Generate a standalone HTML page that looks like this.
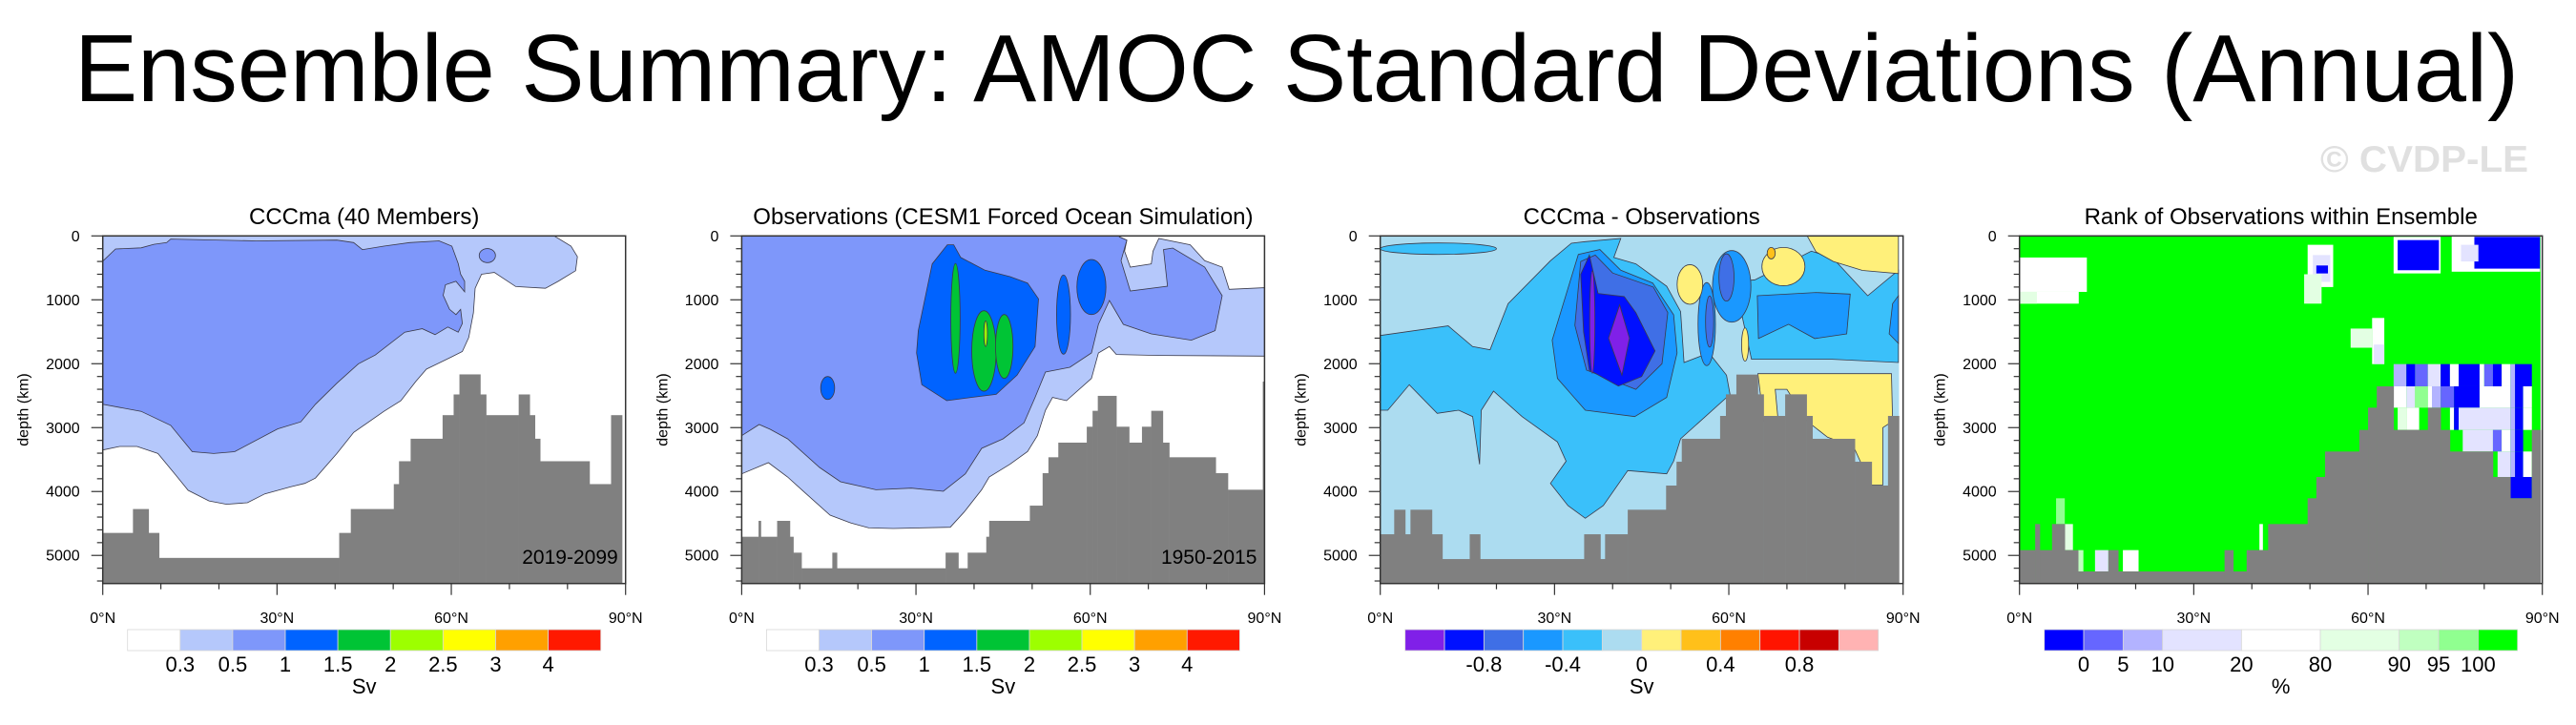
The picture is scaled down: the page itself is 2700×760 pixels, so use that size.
<!DOCTYPE html>
<html><head><meta charset="utf-8">
<style>
html,body{margin:0;padding:0;background:#fff;}
svg{display:block;font-family:"Liberation Sans",Arial,sans-serif;}
</style></head>
<body>
<svg id="fig" width="2700" height="760" viewBox="0 0 2700 760" xmlns="http://www.w3.org/2000/svg">
<text x="78" y="106" font-size="100" textLength="2562" lengthAdjust="spacingAndGlyphs">Ensemble Summary: AMOC Standard Deviations (Annual)</text>
<text x="2432" y="180" font-size="39" font-weight="bold" fill="#e0e0e0" textLength="218" lengthAdjust="spacingAndGlyphs">© CVDP-LE</text>
<g id="panels"></g>
</svg>
<script>
// ---------- data ----------
const panelTitles = ["CCCma (40 Members)","Observations (CESM1 Forced Ocean Simulation)","CCCma - Observations","Rank of Observations within Ensemble"];
const panelLefts = [107.7, 777.4, 1446.7, 2116.7];
const yearLabels = ["2019-2099","1950-2015","",""];
const depthTicks = [0,1000,2000,3000,4000,5000];
const latTicks = [0,30,60,90];
const latTickLabels = ["0°N","30°N","60°N","90°N"];

const sdColors = ["#ffffff","#b5c8fb","#7e97fa","#0063ff","#00c435","#9dff00","#ffff00","#ffa000","#ff1900"];
const sdLabels = ["0.3","0.5","1","1.5","2","2.5","3","4"];
const diffColors = ["#8020e8","#0010ff","#3f6fe6","#1a98ff","#3ac0fa","#acdcf0","#fff07a","#ffc01a","#ff8000","#ff1400","#c80000","#ffb3b3"];
const diffLabels = ["-0.8","-0.4","0","0.4","0.8"];
const rankColors = ["#0000ff","#6666ff","#b3b3ff","#e3e3ff","#ffffff","#e3ffe3","#c0ffc0","#90ff90","#00ff00"];
const rankLabels = ["0","5","10","20","80","90","95","100"];
const rankWidths = [1,1,1,2,2,2,1,1,1];

const bathyLat1 = [0,5.2,7.9,9.7,40.7,42.7,50.1,51.0,53.0,58.5,60.4,61.4,65.0,66.0,71.6,73.5,74.4,75.3,83.8,87.5,89.4];
const bathyDep1 = [4648,4274,4648,5039,4648,4274,3884,3526,3174,2805,2481,2167,2481,2805,2481,2805,3174,3526,3884,2805];
const bathyLat2 = [0,2.9,3.3,6.1,8.3,8.9,10.3,15.6,16.4,35.1,37.3,38.9,42.1,42.6,49.6,51.8,52.8,54.5,59.4,60.4,61.3,64.5,66.7,68.9,70.5,72.5,73.6,81.6,83.7,89.7,90];
const bathyDep2 = [4708,4459,4708,4459,4708,4957,5201,4957,5201,4957,5201,4957,4708,4459,4221,3713,3464,3235,2986,2737,2503,2986,3235,2986,2737,3235,3464,3713,3972,2280];
const bathyLat3 = [0,2.4,4.3,5.2,8.9,10.7,15.4,17.2,35.1,37.9,38.7,42.6,49.2,51.0,51.9,58.5,59.5,61.3,65.0,66.0,69.7,73.4,74.4,81.7,84.6,87.4,89.3];
const bathyDep3 = [4669,4285,4669,4285,4669,5057,4669,5057,4669,5057,4669,4285,3907,3534,3175,2817,2479,2170,2479,2817,2479,2817,3175,3534,3907,2817];
const bathyLat4 = [0,2.7,3.5,5.6,7.8,10.1,15.3,17.0,35.3,36.8,39.1,42.8,49.6,51.1,52.6,58.5,60.0,61.5,64.4,70.3,72.5,74.1,81.5,84.5,88.2,89.7];
const bathyDep4 = [4917,4509,4917,4509,4917,5251,4917,5251,4917,5251,4917,4509,4106,3773,3374,3036,2688,2354,3036,2688,3036,3374,3773,4106,3036];

// contour regions: [lat, depth] vertices
const p1Light = [[0,0],[77.7,0],[80.6,160],[81.7,325],[81.4,545],[78.4,710],[76.2,820],[71.1,792],[67.4,572],[65.2,600],[64.1,820],[63.8,1205],[63.0,1590],[61.9,1810],[60.1,1892],[55.7,2085],[53.9,2277],[51.3,2580],[48.4,2745],[43.2,3075],[40.3,3405],[36.6,3790],[34.8,3872],[32.3,3927],[27.9,4037],[24.9,4175],[21.3,4200],[18.3,4147],[14.7,3982],[12.5,3735],[9.5,3405],[5.9,3295],[2.9,3295],[0,3350]];
const p1Mid = [[0,396],[2.2,204],[6.6,187],[8.8,132],[11,105],[11.7,50],[26.4,77],[40.3,66],[43.2,105],[44.7,215],[48.4,160],[52.8,105],[57.9,77],[60.1,160],[61.2,435],[61.6,600],[62.3,710],[62.3,875],[60.8,710],[59,765],[58.6,930],[59.7,1150],[60.8,1232],[61.6,1150],[61.9,1370],[61.2,1507],[59.4,1425],[57.2,1545],[55,1452],[52,1507],[46.9,1865],[44,2002],[40.3,2305],[36.6,2635],[34.1,2910],[30.1,3020],[22.7,3377],[19.1,3405],[15.4,3377],[11.7,2965],[6.6,2745],[0,2635]];
const p1Blobs = [[66.2,308,1.4,110,2]];

const p2Light = [[0,0],[65,0],[65,15],[66.3,65],[65.9,239],[66.9,488],[70.5,438],[70.8,239],[71.8,40],[77.2,139],[79.7,388],[82.7,488],[83.9,836],[90,811],[90,1881],[71.8,1871],[64.5,1856],[63.3,1732],[61.4,1832],[60.2,2230],[55.9,2578],[53.5,2528],[52.3,2727],[50.9,3126],[49.2,3374],[46.2,3573],[42.6,3773],[41.3,3972],[38.3,4320],[35.9,4559],[26.1,4579],[21.9,4569],[18.8,4494],[15.2,4370],[10.9,4021],[7.9,3773],[4.6,3548],[0,3723]];
const p2Mid = [[0,5],[65,5],[65,15],[66.3,65],[65.3,388],[66.9,861],[73.3,786],[72.6,214],[74.2,189],[79.7,488],[82.7,936],[81.5,1483],[77.4,1632],[70.5,1533],[65.7,1384],[63.3,1010],[61.4,1384],[60.2,1832],[56.5,2056],[52.3,2130],[50.5,2528],[48.6,2926],[45,3175],[41.3,3325],[38.5,3723],[34.7,3997],[29.2,3947],[23.1,3972],[17,3847],[13.4,3623],[7.9,3175],[4.9,3026],[3,2951],[0,3126]];
const p2Blue = [[30.4,1483],[32.8,438],[35.4,139],[36.5,139],[37.7,338],[41.9,537],[46.2,637],[49.2,737],[51.1,985],[50.5,1732],[47.4,2180],[43.8,2479],[39.5,2528],[35.3,2578],[31,2329],[30.1,1832]];
const p2Blobs = [[36.8,1290,0.8,860,4],[41.7,1800,2.1,630,4],[45.2,1730,1.5,500,4],[42,1530,0.3,200,5],[55.4,1231,1.2,620,3],[60.2,800,2.5,430,3],[14.8,2380,1.2,180,3]];

const p3Sky = [[0,1558],[11.7,1408],[15.9,1732],[18.9,1782],[22,1060],[29.3,388],[32.9,115],[35.3,90],[41.4,40],[40.2,338],[44,438],[49.3,786],[51.7,1184],[52.3,1981],[56.6,1832],[59.6,2180],[60.2,2479],[51.7,3175],[50.5,3524],[49.3,3723],[42.6,3673],[38.4,4220],[35.3,4419],[32.3,4220],[29.3,3872],[32,3524],[30.5,3225],[24.4,2827],[19.5,2429],[17.4,2727],[17.1,3574],[15.9,2827],[13.5,2727],[9.8,2777],[5,2329],[1.3,2727],[0,2727]];
const p3SkyRight = [[59.6,737],[64.5,687],[74.2,239],[77.8,338],[83.9,936],[89.2,537],[89.2,1981],[77.8,1931],[63.9,1931],[62,1135]];
const p3Dodger = [[29.6,1632],[34.1,289],[37.8,214],[41.4,537],[46.9,737],[50.5,1234],[51.1,1832],[49.3,2528],[43.8,2827],[35.3,2727],[30.5,2230]];
const p3DodgerRight = [[64.9,936],[75,886],[80.9,911],[80.3,1533],[74.8,1607],[70.3,1383],[65.1,1607]];
const p3DodgerEdge = [[88.2,1060],[89.2,936],[89.2,1682],[87.6,1533]];
const p3Royal = [[34.5,400],[37,300],[40,580],[47,800],[49.5,1200],[48.5,2000],[44,2400],[35.5,2100],[33.5,1400]];
const p3Blue = [[34.5,600],[36,300],[37.5,900],[42,950],[44,1200],[47.3,1800],[45,2200],[41,2350],[36,2100],[35,1500]];
const p3Purple = [[39.3,1600],[41.2,1080],[42.9,1600],[41.6,2180]];
const p3YellowTop = [[73.5,0],[89.2,0],[89.2,590],[83,540],[78,400],[75,250]];
const p3YellowDeep = [[65,2155],[88,2155],[88.2,2900],[86.5,3000],[86.5,3900],[84.5,3900],[81.5,3300],[77,3150],[73.5,2900],[70,2400],[68,2400],[68.5,2900],[66,2900]];
const p3Blobs = [[10,200,10,90,4],[56.2,1380,1.5,650,3],[60.5,790,3.3,560,3],[59.6,650,1.3,370,2],[56.7,1340,0.7,400,2],[36.5,1350,0.45,800,0],[53.3,760,2.2,310,6],[69.4,480,3.7,300,6],[62.8,1700,0.6,260,6],[67.3,270,0.7,90,7]];

const rankCells = [
[0,11.6,338,876,4],[0,10.2,876,1060,4],[0,3,876,1060,5],
[64.4,72.5,15,587,4],[65.1,72.2,65,537,0],[74.4,89.6,0,560,4],[78.3,89.6,15,512,0],[76,79,139,400,3],
[49.6,54,139,800,4],[50.5,53.5,300,720,3],[51.1,53.1,463,587,0],[49,52,600,1060,5],
[57,60.7,1450,1750,5],[60.7,62.8,1284,2006,4],[61,62.8,1700,2006,3],
[64.4,66.6,2006,2354,2],[66.6,68.1,2006,2354,0],[68.1,70.3,2006,2354,1],[70.3,72.5,2006,2354,3],[72.5,74.1,2006,2354,0],[74.1,75.6,2006,2354,4],[75.6,79.2,2006,2354,0],[79.2,80,2006,2354,4],[80,81.5,2006,2354,1],[81.5,83,2006,2354,0],[83,84.5,2006,2354,4],[84.5,85.3,2006,2354,2],[85.3,88.2,2006,2354,0],
[64.4,66.6,2354,2688,4],[66.6,68.1,2354,2688,3],[68.1,70.3,2354,2688,7],[70.3,71,2354,2688,4],[71,72.5,2354,2688,2],[72.5,74.8,2354,2688,1],[74.8,79.2,2354,2688,0],[79.2,84.5,2354,2688,4],[84.5,85.3,2354,2688,2],[85.3,86.7,2354,2688,0],[86.7,88.2,2354,2688,4],
[65.1,66.6,2688,3036,5],[66.6,68.8,2688,3036,4],[74.1,74.8,2688,3036,4],[74.8,75.6,2688,3036,0],[75.6,84.5,2688,3036,3],[84.5,85.3,2688,3036,2],[85.3,86.7,2688,3036,0],[86.7,88.2,2688,3036,4],
[76.3,81.5,3036,3374,3],[81.5,83,3036,3374,1],[83,84.5,3036,3374,4],[84.5,85.3,3036,3374,2],[85.3,86.7,3036,3374,0],
[82.3,84.5,3374,3773,3],[84.5,85.3,3374,3773,2],[85.3,86.7,3374,3773,0],[86.7,88.2,3374,3773,4],
[84.5,88.2,3773,4106,0],
[6.3,7.8,4106,4509,7],[7.8,9.2,4509,4917,5],[10.1,11,4917,5251,6],[13,15.3,4917,5251,3],[17.8,20.5,4917,5251,4],[41.3,41.9,4509,4917,4]
];

// ---------- drawing ----------
const NS = "http://www.w3.org/2000/svg";
const root = document.getElementById("panels");
const PW = 548, TOP = 247.3, PH = 364.4, DMAX = 5440;
function mk(tag, attrs, parent){ const e=document.createElementNS(NS,tag); for(const k in attrs) e.setAttribute(k,attrs[k]); (parent||root).appendChild(e); return e; }
function xs(L, lat){ return L + lat/90*PW; }
function ys(d){ return TOP + d/DMAX*PH; }

function poly(g, L, pts, fill, stroke, name){
  const p = mk("polygon", {points: pts.map(q=>xs(L,q[0]).toFixed(1)+","+ys(q[1]).toFixed(1)).join(" "), fill: fill, stroke: stroke||"#3a3a4a", "stroke-width": 0.8}, g);
  
  
}
function blobs(g, L, arr, colors, name){
  arr.forEach(b=>{
    const e = mk("ellipse", {cx: xs(L,b[0]), cy: ys(b[1]), rx: b[2]/90*PW, ry: b[3]/DMAX*PH, fill: colors[b[4]], stroke:"#3a3a4a","stroke-width":0.8}, g);
    
    
  });
}
function bathy(g, L, lats, deps){
  for(let i=0;i<deps.length;i++){
    const r = mk("rect", {x: xs(L,lats[i]), y: ys(deps[i]), width: xs(L,lats[i+1])-xs(L,lats[i])+0.3, height: ys(DMAX)-ys(deps[i]), fill:"#808080"}, g);
    
    
  }
}

function axes(g, L, idx){
  const t = mk("text", {x: L+PW/2, y: 235, "font-size": 24, "text-anchor":"middle"}, g);
  t.textContent = panelTitles[idx];
  
  
  const f = mk("rect", {x:L, y:TOP, width:PW, height:PH, fill:"none", stroke:"#333", "stroke-width":1.5}, g);
  
  
  for(let d=0; d<=5400; d+=200){
    const major = d%1000===0;
    const tk = mk("line", {x1:L, x2:L-(major?12:6), y1:ys(d), y2:ys(d), stroke:"#333","stroke-width":1.2}, g);
    
    
  }
  depthTicks.forEach(d=>{
    const tl = mk("text", {x:L-24, y:ys(d)+5.5, "font-size":16, "text-anchor":"end"}, g);
    tl.textContent = d;
    
    
  });
  for(let a=0; a<=90; a+=10){
    const major = a%30===0;
    const tk = mk("line", {x1:xs(L,a), x2:xs(L,a), y1:TOP+PH, y2:TOP+PH+(major?12:6), stroke:"#333","stroke-width":1.2}, g);
    
    
  }
  latTicks.forEach((a,i)=>{
    const tl = mk("text", {x:xs(L,a), y:653, "font-size":16, "text-anchor":"middle"}, g);
    tl.textContent = latTickLabels[i];
    
    
  });
  const yl = mk("text", {x:0, y:0, "font-size":16, "text-anchor":"middle", transform:"translate("+(L-78)+","+(TOP+PH/2)+") rotate(-90)"}, g);
  yl.textContent = "depth (km)";
  
  
  if(yearLabels[idx]){
    const yr = mk("text", {x:L+540, y:591, "font-size":21, "text-anchor":"end"}, g);
    yr.textContent = yearLabels[idx];
    
    
  }
}

function colorbar(g, L, colors, widths, labels, labelAt, unit){
  const x0 = L+26, W = 496, total = widths.reduce((a,b)=>a+b,0);
  let acc = 0; const bounds=[0];
  colors.forEach((c,i)=>{
    const bx = x0 + acc/total*W, bw = widths[i]/total*W;
    const r = mk("rect", {x:bx, y:660, width:bw, height:22, fill:c, stroke:"#d8d8d8","stroke-width":0.8}, g);
    
    
    acc += widths[i]; bounds.push(acc);
  });
  labels.forEach((lab,i)=>{
    const b = bounds[labelAt[i]];
    const t = mk("text", {x:x0 + b/total*W, y:704, "font-size":22, "text-anchor":"middle"}, g);
    t.textContent = lab;
    
    
  });
  const u = mk("text", {x:x0+W/2, y:727, "font-size":22, "text-anchor":"middle"}, g);
  u.textContent = unit;
  
  
}

function panelGroup(i){
  const g = mk("g", {});
  
  
  return g;
}

// Panel 1
(function(){
  const L = panelLefts[0], g = panelGroup(0);
  poly(g, L, p1Light, sdColors[1], null, 'contour-0.3');
  poly(g, L, p1Mid, sdColors[2], null, 'contour-0.5');
  blobs(g, L, p1Blobs, sdColors, 'contour-blob');
  bathy(g, L, bathyLat1, bathyDep1);
  axes(g, L, 0);
  colorbar(g, L, sdColors, [1,1,1,1,1,1,1,1,1], sdLabels, [1,2,3,4,5,6,7,8], "Sv");
})();
// Panel 2
(function(){
  const L = panelLefts[1], g = panelGroup(1);
  poly(g, L, p2Light, sdColors[1], null, 'contour-0.3');
  poly(g, L, p2Mid, sdColors[2], null, 'contour-0.5');
  poly(g, L, p2Blue, sdColors[3], null, 'contour-1');
  blobs(g, L, p2Blobs, sdColors, 'contour-blob');
  bathy(g, L, bathyLat2, bathyDep2);
  axes(g, L, 1);
  colorbar(g, L, sdColors, [1,1,1,1,1,1,1,1,1], sdLabels, [1,2,3,4,5,6,7,8], "Sv");
})();
// Panel 3
(function(){
  const L = panelLefts[2], g = panelGroup(2);
  const bg = mk("rect", {x:L, y:TOP, width:xs(L,89.3)-L, height:PH, fill:diffColors[5]}, g);
  
  
  poly(g, L, p3Sky, diffColors[4], null, 'contour-neg0.2');
  poly(g, L, p3SkyRight, diffColors[4], null, 'contour-neg0.2');
  poly(g, L, p3Dodger, diffColors[3], null, 'contour-neg0.4');
  poly(g, L, p3DodgerRight, diffColors[3], null, 'contour-neg0.4');
  poly(g, L, p3DodgerEdge, diffColors[3], null, 'contour-neg0.4');
  poly(g, L, p3Royal, diffColors[2], null, 'contour-neg0.6');
  poly(g, L, p3Blue, diffColors[1], null, 'contour-neg0.8');
  poly(g, L, p3Purple, diffColors[0], null, 'contour-neg1');
  poly(g, L, p3YellowTop, diffColors[6], null, 'contour-0');
  poly(g, L, p3YellowDeep, diffColors[6], null, 'contour-0');
  blobs(g, L, p3Blobs, diffColors, 'contour-blob');
  bathy(g, L, bathyLat3, bathyDep3);
  axes(g, L, 2);
  colorbar(g, L, diffColors, [1,1,1,1,1,1,1,1,1,1,1,1], diffLabels, [2,4,6,8,10], "Sv");
})();
// Panel 4
(function(){
  const L = panelLefts[3], g = panelGroup(3);
  const bg = mk("rect", {x:L, y:TOP, width:xs(L,89.7)-L, height:PH, fill:rankColors[8]}, g);
  
  
  rankCells.forEach(c=>{
    const r = mk("rect", {x:xs(L,c[0]), y:ys(c[2]), width:xs(L,c[1])-xs(L,c[0]), height:ys(c[3])-ys(c[2]), fill:rankColors[c[4]]}, g);
    
    
  });
  bathy(g, L, bathyLat4, bathyDep4);
  axes(g, L, 3);
  colorbar(g, L, rankColors, rankWidths, rankLabels, [1,2,3,4,5,6,7,8], "%");
})();
</script>
</body></html>
